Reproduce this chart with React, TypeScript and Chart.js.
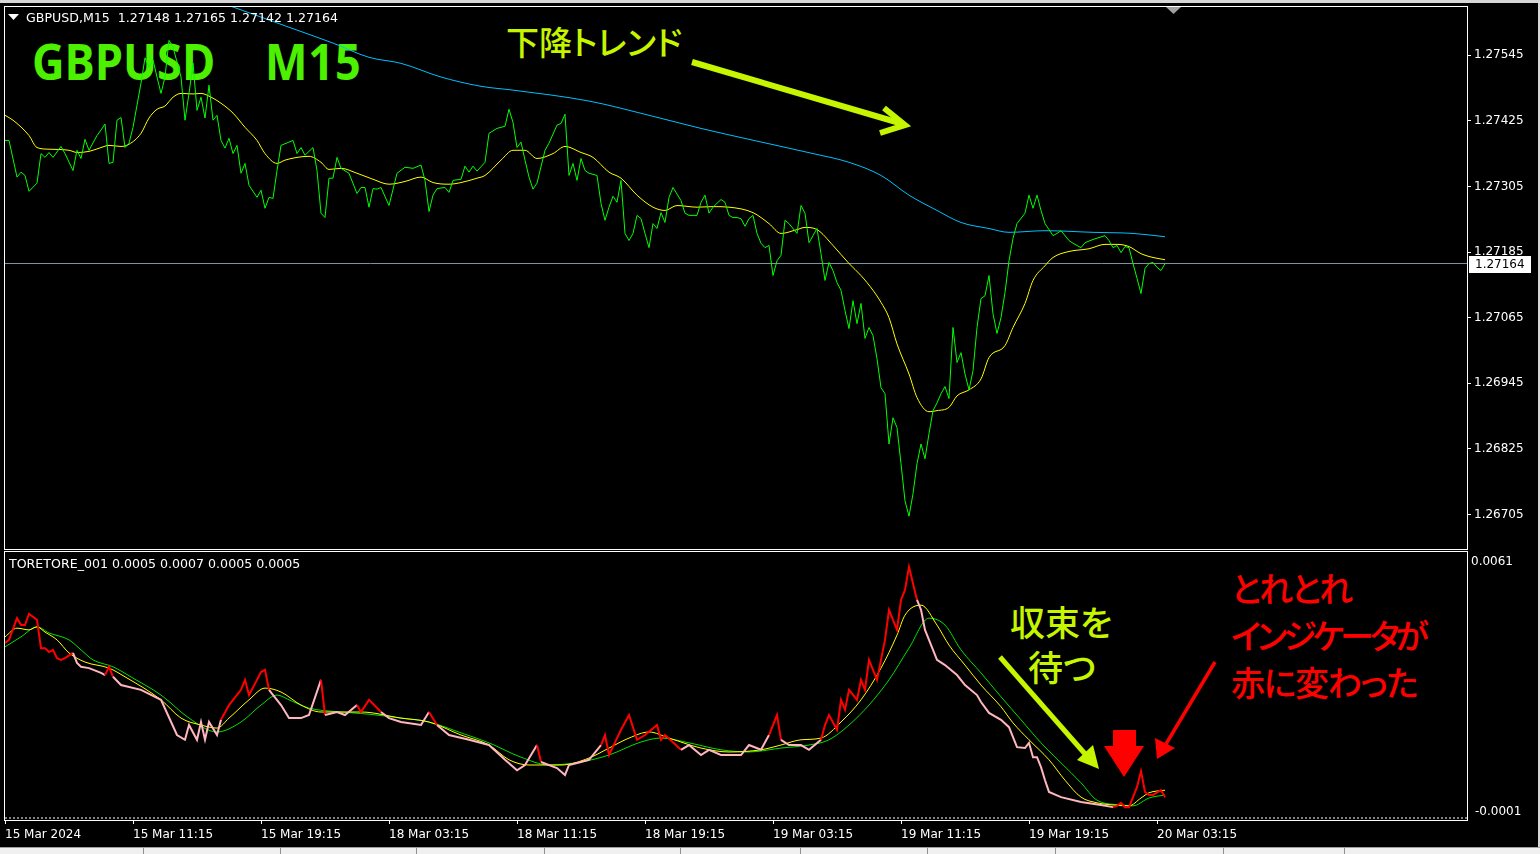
import React, { useEffect, useRef } from "react";
import { Chart, registerables } from "chart.js";

Chart.register(...registerables);

// ---------- text ----------
const symbolTitle = "GBPUSD,M15  1.27148 1.27165 1.27142 1.27164";
const indicatorTitle = "TORETORE_001 0.0005 0.0007 0.0005 0.0005";
const bigSymbol = "GBPUSD";
const bigPeriod = "M15";
const trendNote = "下降トレンド";
const waitNote = ["収束を", "待つ"];
const redNote = ["とれとれ", "インジケータが", "赤に変わった"];

// ---------- axes ----------
const timeTickBars = [0, 32, 64, 96, 128, 160, 192, 224, 256, 288];
const timeLabels = [
  "15 Mar 2024", "15 Mar 11:15", "15 Mar 19:15", "18 Mar 03:15", "18 Mar 11:15",
  "18 Mar 19:15", "19 Mar 03:15", "19 Mar 11:15", "19 Mar 19:15", "20 Mar 03:15",
];
const priceTicks = [1.27545, 1.27425, 1.27305, 1.27185, 1.27065, 1.26945, 1.26825, 1.26705];
const priceMin = 1.26642;
const priceMax = 1.27633;
const barsVisible = 365.5;
const indMin = -0.000046;
const indMax = 0.006123;
const indScaleLabels = ["0.0061", "-0.0001"];
const indLevel = 0;

// ---------- price panel: [bar index, value] ----------
const priceClose: [number, number][] = [
  [0,1.27389],[1,1.27389],[3,1.27322],[4,1.27331],[5,1.27325],[6,1.27296],[8,1.27311],[9,1.27365],[10,1.27358],[11,1.27367],
  [12,1.27358],[14,1.27378],[15,1.27365],[17,1.27334],[18,1.27371],[19,1.27356],[20,1.27391],[21,1.27371],[23,1.27398],[24,1.27408],
  [25,1.27419],[26,1.27347],[27,1.27349],[28,1.27426],[29,1.27431],[30,1.27376],[31,1.27384],[32,1.27413],[34,1.27494],[35,1.27540],
  [36,1.27523],[37,1.27536],[38,1.27505],[39,1.27475],[40,1.27505],[41,1.27572],[42,1.27560],[44,1.27505],[45,1.27426],[46,1.27475],
  [47,1.27530],[48,1.27444],[49,1.27468],[50,1.27430],[51,1.27490],[52,1.27426],[53,1.27435],[54,1.27389],[55,1.27375],[56,1.27393],
  [57,1.27365],[58,1.27380],[59,1.27329],[60,1.27347],[61,1.27307],[63,1.27285],[64,1.27298],[65,1.27265],[66,1.27285],[67,1.27283],
  [68,1.27334],[69,1.27380],[72,1.27389],[73,1.27365],[74,1.27376],[75,1.27362],[77,1.27376],[78,1.27334],[79,1.27256],[80,1.27248],
  [81,1.27320],[82,1.27320],[83,1.27358],[84,1.27338],[86,1.27329],[88,1.27292],[89,1.27303],[90,1.27303],[91,1.27267],[92,1.27301],
  [93,1.27300],[94,1.27303],[96,1.27270],[98,1.27329],[100,1.27340],[102,1.27338],[104,1.27344],[105,1.27316],[106,1.27259],[107,1.27289],
  [108,1.27301],[110,1.27303],[111,1.27294],[112,1.27316],[114,1.27318],[115,1.27342],[116,1.27331],[117,1.27342],[118,1.27333],[120,1.27349],
  [121,1.27402],[123,1.27411],[125,1.27415],[126,1.27446],[127,1.27422],[128,1.27376],[129,1.27386],[130,1.27353],[131,1.27322],[132,1.27300],
  [133,1.27311],[135,1.27371],[136,1.27384],[138,1.27417],[139,1.27420],[140,1.27437],[141,1.27325],[142,1.27347],[143,1.27316],[144,1.27356],
  [145,1.27334],[146,1.27329],[148,1.27325],[149,1.27274],[150,1.27243],[151,1.27267],[152,1.27287],[153,1.27276],[154,1.27316],[155,1.27219],
  [156,1.27206],[157,1.27219],[158,1.27252],[159,1.27246],[160,1.27219],[161,1.27193],[162,1.27237],[163,1.27228],[164,1.27257],[165,1.27239],
  [166,1.27285],[167,1.27303],[169,1.27279],[170,1.27256],[171,1.27252],[173,1.27252],[174,1.27276],[175,1.27289],[176,1.27256],[177,1.27267],
  [179,1.27281],[180,1.27276],[181,1.27252],[182,1.27248],[183,1.27248],[184,1.27246],[185,1.27232],[186,1.27246],[187,1.27252],[188,1.27219],
  [189,1.27201],[190,1.27193],[191,1.27197],[192,1.27142],[193,1.27169],[194,1.27179],[195,1.27243],[196,1.27237],[198,1.27219],[199,1.27270],
  [200,1.27256],[201,1.27202],[202,1.27215],[203,1.27228],[204,1.27182],[205,1.27133],[206,1.27166],[207,1.27151],[208,1.27129],[209,1.27115],
  [210,1.27078],[211,1.27045],[212,1.27096],[213,1.27054],[214,1.27091],[215,1.27027],[216,1.27047],[217,1.27032],[218,1.26990],[219,1.26937],
  [220,1.26926],[221,1.26834],[222,1.26882],[223,1.26864],[224,1.26798],[225,1.26730],[226,1.26702],[227,1.26743],[228,1.26798],[229,1.26834],
  [230,1.26807],[231,1.26853],[232,1.26895],[233,1.26909],[234,1.26926],[235,1.26939],[236,1.26917],[237,1.27047],[238,1.26983],[239,1.27001],
  [240,1.26962],[241,1.26933],[242,1.26968],[243,1.27047],[244,1.27100],[245,1.27105],[246,1.27142],[247,1.27072],[248,1.27036],[249,1.27065],
  [250,1.27111],[251,1.27169],[252,1.27210],[253,1.27237],[255,1.27256],[256,1.27289],[257,1.27265],[258,1.27289],[259,1.27261],[260,1.27237],
  [262,1.27215],[263,1.27219],[264,1.27224],[266,1.27206],[267,1.27201],[269,1.27193],[270,1.27202],[272,1.27208],[275,1.27215],[276,1.27206],
  [277,1.27193],[278,1.27197],[279,1.27184],[280,1.27195],[281,1.27193],[282,1.27164],[283,1.27137],[284,1.27109],[285,1.27155],[286,1.27164],
  [287,1.27166],[288,1.27157],[289,1.27151],[290,1.27164],
];

const maFast: [number, number][] = [
  [0,1.27435],[2,1.27426],[6,1.27398],[8,1.27376],[11,1.27373],[16,1.27371],[18,1.27367],[21,1.27369],[24,1.27376],[26,1.27380],
  [29,1.27378],[31,1.27382],[34,1.27402],[36,1.27430],[38,1.27446],[40,1.27452],[42,1.27468],[44,1.27475],[47,1.27474],[49,1.27475],
  [51,1.27470],[54,1.27457],[57,1.27439],[60,1.27413],[63,1.27389],[65,1.27365],[68,1.27347],[70,1.27353],[73,1.27358],[76,1.27360],
  [79,1.27349],[81,1.27336],[84,1.27338],[88,1.27329],[92,1.27318],[96,1.27309],[100,1.27314],[104,1.27322],[107,1.27312],[111,1.27309],
  [114,1.27312],[118,1.27320],[120,1.27325],[124,1.27353],[127,1.27371],[130,1.27371],[133,1.27356],[137,1.27365],[140,1.27378],[144,1.27367],
  [147,1.27358],[151,1.27331],[154,1.27320],[158,1.27289],[162,1.27267],[165,1.27261],[168,1.27270],[173,1.27267],[177,1.27268],[181,1.27267],
  [187,1.27257],[191,1.27237],[194,1.27219],[198,1.27226],[200,1.27230],[203,1.27226],[207,1.27197],[211,1.27164],[214,1.27142],[217,1.27115],
  [219,1.27093],[221,1.27065],[223,1.27017],[226,1.26962],[228,1.26919],[231,1.26893],[233,1.26895],[236,1.26901],[238,1.26922],[241,1.26933],
  [244,1.26953],[246,1.26992],[250,1.27014],[252,1.27047],[255,1.27091],[257,1.27133],[260,1.27160],[262,1.27175],[266,1.27186],[271,1.27191],
  [275,1.27199],[278,1.27199],[281,1.27195],[284,1.27182],[287,1.27175],[290,1.27171],
];

const maSlow: [number, number][] = [
  [0,1.27778],[29,1.27704],[57,1.27633],[71,1.27596],[82,1.27567],[91,1.27541],[99,1.27530],[109,1.27505],[119,1.27488],[127,1.27481],
  [146,1.27461],[161,1.27435],[174,1.27411],[186,1.27391],[202,1.27365],[211,1.27349],[219,1.27325],[226,1.27289],[233,1.27261],[239,1.27239],
  [246,1.27228],[251,1.27221],[260,1.27224],[272,1.27221],[282,1.27219],[290,1.27213],
];

// ---------- indicator panel ----------
const indMain: [number, number][] = [
  [0,0.00403],[1,0.00410],[3,0.00460],[4,0.00444],[5,0.00444],[6,0.00470],[8,0.00456],[9,0.00391],[10,0.00391],[11,0.00382],
  [12,0.00387],[13,0.00368],[14,0.00364],[15,0.00368],[17,0.00380],[18,0.00357],[19,0.00348],[21,0.00345],[24,0.00334],[25,0.00329],
  [26,0.00348],[27,0.00325],[29,0.00306],[34,0.00295],[39,0.00272],[43,0.00191],[45,0.00180],[46,0.00214],[48,0.00180],[49,0.00221],
  [50,0.00180],[51,0.00221],[53,0.00191],[54,0.00226],[56,0.00260],[59,0.00295],[60,0.00318],[61,0.00283],[63,0.00318],[64,0.00336],
  [65,0.00341],[66,0.00295],[69,0.00260],[71,0.00230],[74,0.00230],[76,0.00237],[79,0.00318],[80,0.00237],[83,0.00244],[85,0.00237],
  [88,0.00260],[89,0.00244],[91,0.00272],[94,0.00244],[96,0.00230],[99,0.00221],[104,0.00214],[106,0.00244],[108,0.00214],[111,0.00191],
  [116,0.00180],[121,0.00168],[125,0.00134],[128,0.00110],[130,0.00122],[133,0.00168],[134,0.00129],[138,0.00115],[140,0.00099],[141,0.00122],
  [144,0.00129],[146,0.00134],[149,0.00168],[150,0.00191],[151,0.00145],[154,0.00203],[156,0.00237],[158,0.00180],[160,0.00191],[163,0.00214],
  [164,0.00180],[165,0.00191],[169,0.00157],[171,0.00168],[174,0.00145],[176,0.00157],[179,0.00145],[184,0.00145],[186,0.00168],[189,0.00157],
  [191,0.00191],[193,0.00237],[194,0.00180],[196,0.00168],[199,0.00168],[201,0.00157],[204,0.00180],[205,0.00214],[206,0.00237],[208,0.00203],
  [209,0.00272],[210,0.00249],[211,0.00295],[213,0.00272],[214,0.00318],[215,0.00295],[216,0.00364],[218,0.00318],[219,0.00364],[220,0.00410],
  [221,0.00479],[223,0.00433],[224,0.00502],[225,0.00525],[226,0.00578],[228,0.00502],[229,0.00479],[230,0.00433],[231,0.00410],[233,0.00364],
  [235,0.00352],[238,0.00329],[240,0.00306],[243,0.00283],[244,0.00267],[246,0.00242],[249,0.00226],[251,0.00209],[252,0.00186],[253,0.00163],
  [255,0.00161],[256,0.00173],[257,0.00140],[258,0.00140],[259,0.00117],[260,0.00087],[261,0.00060],[264,0.00048],[269,0.00037],[274,0.00030],
  [277,0.00025],[278,0.00028],[279,0.00035],[280,0.00025],[281,0.00025],[283,0.00071],[284,0.00108],[285,0.00060],[286,0.00053],[287,0.00053],
  [289,0.00064],[290,0.00048],
];
// bar ranges where the indicator line is drawn red (pink elsewhere)
const redRanges: [number, number][] = [
  [0,17],[25,27],[54,66],[78,80],[86,92],[105,107],[132,134],[148,166],[191,194],[203,227],[277,290],
];

const indSignalFast: [number, number][] = [
  [0,0.00417],[3,0.00437],[6,0.00433],[8,0.00440],[10,0.00428],[13,0.00410],[16,0.00380],[20,0.00359],[26,0.00345],[30,0.00325],
  [39,0.00272],[44,0.00230],[49,0.00214],[53,0.00207],[56,0.00230],[61,0.00272],[65,0.00299],[69,0.00290],[74,0.00260],[79,0.00244],
  [89,0.00244],[99,0.00230],[106,0.00221],[114,0.00191],[121,0.00168],[126,0.00134],[131,0.00122],[139,0.00122],[146,0.00138],[151,0.00161],
  [156,0.00184],[161,0.00198],[166,0.00184],[174,0.00161],[181,0.00152],[189,0.00157],[194,0.00168],[199,0.00180],[204,0.00184],[209,0.00221],
  [214,0.00272],[219,0.00345],[223,0.00421],[225,0.00467],[229,0.00490],[233,0.00444],[236,0.00398],[240,0.00352],[244,0.00306],[249,0.00256],
  [252,0.00219],[256,0.00180],[261,0.00134],[265,0.00087],[269,0.00048],[273,0.00035],[277,0.00030],[281,0.00028],[284,0.00046],[286,0.00058],
  [290,0.00064],
];

const indSignalSlow: [number, number][] = [
  [0,0.00394],[4,0.00417],[8,0.00440],[11,0.00426],[16,0.00410],[19,0.00387],[22,0.00364],[27,0.00348],[32,0.00322],[39,0.00283],
  [46,0.00230],[53,0.00198],[59,0.00221],[64,0.00260],[68,0.00283],[71,0.00272],[76,0.00253],[84,0.00244],[91,0.00239],[99,0.00230],
  [106,0.00221],[114,0.00196],[121,0.00173],[129,0.00140],[136,0.00122],[144,0.00129],[151,0.00145],[159,0.00175],[164,0.00184],[171,0.00173],
  [179,0.00157],[186,0.00152],[194,0.00161],[201,0.00168],[206,0.00180],[211,0.00214],[216,0.00260],[221,0.00318],[226,0.00391],[231,0.00460],
  [235,0.00444],[239,0.00387],[244,0.00334],[249,0.00279],[254,0.00226],[259,0.00173],[264,0.00127],[269,0.00081],[273,0.00041],[279,0.00030],
  [282,0.00028],[286,0.00046],[290,0.00053],
];

// ---------- helpers ----------
const pts = (arr: [number, number][]) => arr.map(([x, y]) => ({ x, y }));
const lastClose = priceClose[priceClose.length - 1][1];
const isRed = (bar: number) => redRanges.some(([a, b]) => bar >= a && bar < b);
const AXIS_FONT = { family: "DejaVu Sans", size: 12 };
const LIME_NOTE = "#c6f500";

const noPad = (s: any) => {
  s.paddingTop = 0;
  s.paddingBottom = 0;
  s.paddingLeft = 0;
  s.paddingRight = 0;
};

const framePlugin = {
  id: "frame",
  afterDraw(chart: any) {
    const { ctx, chartArea: a } = chart;
    ctx.save();
    ctx.strokeStyle = "#ffffff";
    ctx.lineWidth = 1;
    ctx.strokeRect(a.left - 0.5, a.top - 0.5, a.right - a.left + 1, a.bottom - a.top + 1);
    ctx.restore();
  },
};

const priceTagPlugin = {
  id: "priceTag",
  afterDraw(chart: any) {
    const { ctx, chartArea: a } = chart;
    const y = Math.round(chart.scales.y.getPixelForValue(lastClose));
    ctx.save();
    ctx.fillStyle = "#ffffff";
    ctx.fillRect(a.right + 2, y - 8, 62, 17);
    ctx.fillStyle = "#000000";
    ctx.font = "12px 'DejaVu Sans'";
    ctx.textBaseline = "middle";
    ctx.fillText(lastClose.toFixed(5), a.right + 8, y + 1);
    ctx.restore();
  },
};

const indScalePlugin = {
  id: "indScale",
  afterDraw(chart: any) {
    const { ctx, chartArea: a } = chart;
    ctx.save();
    ctx.fillStyle = "#ffffff";
    ctx.font = "12px 'DejaVu Sans'";
    ctx.textBaseline = "middle";
    ctx.fillText(indScaleLabels[0], a.right + 4, a.top + 10);
    ctx.fillText(indScaleLabels[1], a.right + 8, a.bottom - 8);
    ctx.restore();
  },
};

export default function App() {
  const topRef = useRef<HTMLCanvasElement>(null);
  const botRef = useRef<HTMLCanvasElement>(null);

  useEffect(() => {
    const top = new Chart(topRef.current as HTMLCanvasElement, {
      type: "line",
      data: {
        datasets: [
          { data: pts(priceClose), borderColor: "#00ff00", borderWidth: 1, pointRadius: 0, tension: 0 },
          { data: pts(maFast), borderColor: "#ffff00", borderWidth: 1, pointRadius: 0, cubicInterpolationMode: "monotone" },
          { data: pts(maSlow), borderColor: "#00bfff", borderWidth: 1, pointRadius: 0, cubicInterpolationMode: "monotone" },
          { data: [{ x: 0, y: lastClose }, { x: barsVisible, y: lastClose }], borderColor: "#7f90a0", borderWidth: 1, pointRadius: 0 },
        ],
      } as any,
      options: {
        animation: false,
        responsive: false,
        events: [],
        layout: { padding: { left: 5, top: 7, right: 0, bottom: 1 } },
        plugins: { legend: { display: false }, tooltip: { enabled: false } },
        scales: {
          x: { type: "linear", min: 0, max: barsVisible, display: false },
          y: {
            type: "linear",
            position: "right",
            min: priceMin,
            max: priceMax,
            afterFit: (s: any) => { s.width = 73; noPad(s); },
            afterBuildTicks: (s: any) => { s.ticks = priceTicks.map((v) => ({ value: v })); },
            grid: { drawOnChartArea: false, drawTicks: true, tickLength: 4, color: "#ffffff" },
            border: { display: false },
            ticks: {
              color: "#ffffff",
              font: AXIS_FONT,
              padding: 3,
              autoSkip: false,
              callback: (v: any) => Number(v).toFixed(5),
            },
          },
        },
      } as any,
      plugins: [framePlugin, priceTagPlugin],
    });

    const bot = new Chart(botRef.current as HTMLCanvasElement, {
      type: "line",
      data: {
        datasets: [
          {
            data: pts(indMain),
            borderColor: "#ff0000",
            borderWidth: 2,
            pointRadius: 0,
            tension: 0,
            segment: { borderColor: (c: any) => (isRed(c.p0.parsed.x) ? "#ff0000" : "#ffb6c1") },
          },
          { data: pts(indSignalFast), borderColor: "#ffff00", borderWidth: 1, pointRadius: 0, cubicInterpolationMode: "monotone" },
          { data: pts(indSignalSlow), borderColor: "#00e000", borderWidth: 1, pointRadius: 0, cubicInterpolationMode: "monotone" },
          {
            data: [{ x: 0, y: indLevel }, { x: barsVisible, y: indLevel }],
            borderColor: "#ffffff",
            borderWidth: 1,
            borderDash: [2, 2],
            pointRadius: 0,
          },
        ],
      } as any,
      options: {
        animation: false,
        responsive: false,
        events: [],
        layout: { padding: { left: 5, top: 2, right: 0, bottom: 8 } },
        plugins: { legend: { display: false }, tooltip: { enabled: false } },
        scales: {
          x: {
            type: "linear",
            min: 0,
            max: barsVisible,
            position: "bottom",
            afterFit: (s: any) => { s.height = 26; noPad(s); },
            afterBuildTicks: (s: any) => { s.ticks = timeTickBars.map((v) => ({ value: v })); },
            grid: { drawOnChartArea: false, drawTicks: true, tickLength: 4, color: "#ffffff" },
            border: { display: false },
            ticks: {
              color: "#ffffff",
              font: AXIS_FONT,
              padding: 4,
              align: "start",
              maxRotation: 0,
              autoSkip: false,
              callback: (v: any) => timeLabels[timeTickBars.indexOf(Number(v))],
            },
          },
          y: {
            type: "linear",
            position: "right",
            min: indMin,
            max: indMax,
            afterFit: (s: any) => { s.width = 73; noPad(s); },
            ticks: { display: false },
            grid: { display: false },
            border: { display: false },
          },
        },
      } as any,
      plugins: [framePlugin, indScalePlugin],
    });

    return () => {
      top.destroy();
      bot.destroy();
    };
  }, []);

  const jp = "'Noto Sans CJK JP', sans-serif";
  const small: React.CSSProperties = {
    position: "absolute",
    font: "12.6px 'DejaVu Sans'",
    lineHeight: "14px",
    color: "#ffffff",
    whiteSpace: "pre",
  };
  const note = (color: string, size: number, weight: number, spacing = 0): React.CSSProperties => ({
    position: "absolute",
    fontFamily: jp,
    fontSize: size,
    fontWeight: weight,
    lineHeight: `${size}px`,
    letterSpacing: spacing,
    color,
    whiteSpace: "pre",
    fontFeatureSettings: '"palt"',
  });
  const big: React.CSSProperties = {
    position: "absolute",
    fontFamily: "'Open Sans', sans-serif",
    fontSize: 50,
    fontWeight: 700,
    lineHeight: "50px",
    color: "#4cf000",
    whiteSpace: "pre",
    transform: "scale(0.9, 1)",
    transformOrigin: "0 0",
  };
  const redSpacing = [-2, -4, -1.4];

  return (
    <div style={{ position: "fixed", left: 0, top: 0, width: 1540, height: 854, background: "#000", overflow: "hidden" }}>
      {/* window chrome */}
      <div style={{ position: "absolute", left: 0, top: 0, width: 1540, height: 3, background: "#d6d6d6" }} />
      <div style={{ position: "absolute", left: 1538, top: 0, width: 2, height: 848, background: "#d6d6d6" }} />
      <div style={{ position: "absolute", left: 0, top: 847, width: 1540, height: 7, background: "#f0f0f0", borderTop: "1px solid #a0a0a0" }} />
      {[143, 280, 416, 544, 680, 800, 927, 1055, 1223, 1344].map((x) => (
        <div key={x} style={{ position: "absolute", left: x, top: 848, width: 1, height: 6, background: "#909090" }} />
      ))}

      {/* annotations (behind the chart lines) */}
      <div style={{ ...big, left: 32, top: 36 }}>{bigSymbol}</div>
      <div style={{ ...big, left: 265, top: 36, letterSpacing: 1 }}>{bigPeriod}</div>
      <div style={{ ...note(LIME_NOTE, 33, 500), left: 506, top: 25 }}>{trendNote}</div>
      <div style={{ ...note(LIME_NOTE, 35, 500), left: 1010, top: 603 }}>{waitNote[0]}</div>
      <div style={{ ...note(LIME_NOTE, 35, 500), left: 1028, top: 648 }}>{waitNote[1]}</div>
      {redNote.map((t, i) => (
        <div key={t} style={{ ...note("#ff0000", 34, 500, redSpacing[i]), left: 1231, top: 571 + i * 47 }}>{t}</div>
      ))}

      <svg width={1540} height={854} style={{ position: "absolute", left: 0, top: 0 }}>
        {/* chart shift marker */}
        <polygon points="1166,7 1181,7 1173.5,14" fill="#a0a0a0" />
        {/* downtrend arrow */}
        <line x1={692} y1={62} x2={903} y2={124} stroke={LIME_NOTE} strokeWidth={6} />
        <polyline points="884,108 905,125 880,133" fill="none" stroke={LIME_NOTE} strokeWidth={6} strokeLinejoin="miter" />
        {/* wait arrow */}
        <line x1={1000} y1={657} x2={1086} y2={755} stroke={LIME_NOTE} strokeWidth={5} />
        <polygon points="1099,769 1077,760 1093,745" fill={LIME_NOTE} />
        {/* red arrow */}
        <line x1={1215} y1={662} x2={1166} y2={744} stroke="#ff0000" strokeWidth={3.5} />
        <polygon points="1157,759 1155,738 1175,748" fill="#ff0000" />
        {/* block arrow */}
        <polygon points="1113,730 1136,730 1136,746 1144,746 1124,777 1104,746 1113,746" fill="#ff0000" />
      </svg>

      <canvas ref={topRef} width={1540} height={550} style={{ position: "absolute", left: 0, top: 0 }} />
      <canvas ref={botRef} width={1540} height={304} style={{ position: "absolute", left: 0, top: 550 }} />

      {/* headers */}
      <svg width={14} height={10} style={{ position: "absolute", left: 7, top: 13 }}>
        <polygon points="1,1 12,1 6.5,7" fill="#ffffff" />
      </svg>
      <div style={{ ...small, left: 26, top: 11 }}>{symbolTitle}</div>
      <div style={{ ...small, left: 9, top: 557 }}>{indicatorTitle}</div>
    </div>
  );
}
